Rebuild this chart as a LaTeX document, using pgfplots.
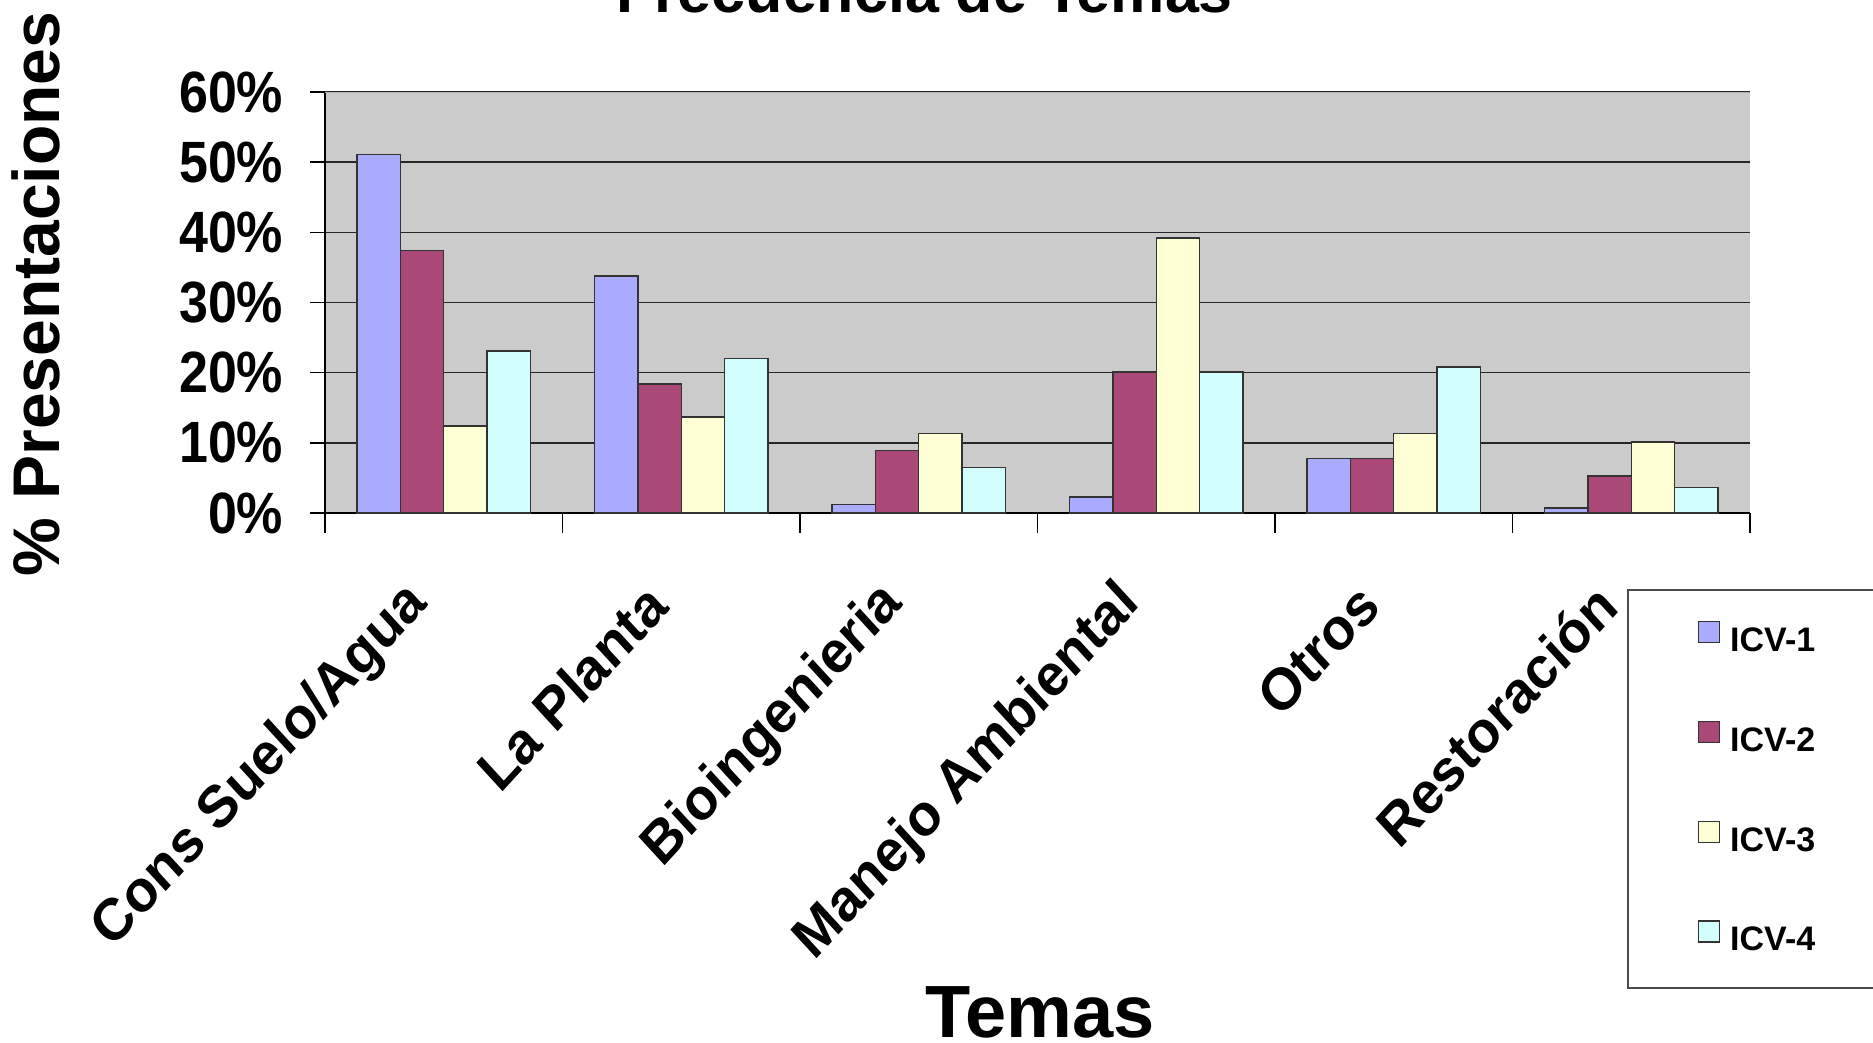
\documentclass[border=0pt]{standalone}
\usepackage{pgfplots}
\pgfplotsset{compat=1.18}
\usepackage{fontspec}
\setmainfont{Liberation Sans}
\definecolor{cA}{HTML}{AAAAFF}
\definecolor{cB}{HTML}{AA4878}
\definecolor{cC}{HTML}{FFFFD5}
\definecolor{cD}{HTML}{D2FEFE}
\definecolor{bgg}{HTML}{CBCBCB}
\pgfplotsset{every axis plot post/.append style={legend image code/.code={\draw[##1, draw=black!80, line width=0.35pt] (0pt,0pt) rectangle (5.25pt,5.25pt);}}}
\begin{document}
\begin{tikzpicture}
\begin{axis}[
  at={(81.25pt,132.25pt)}, anchor=south west,
  scale only axis, width=356.25pt, height=105.25pt,
  xmin=-0.5, xmax=5.5, ymin=0, ymax=60,
  axis x line*=bottom, axis y line*=left,
  axis line style={black, line width=0.4pt},
  axis background/.style={fill=bgg},
  ybar, bar width=0.1823,
  ytick={0,10,20,30,40,50,60},
  yticklabels={0\%,10\%,20\%,30\%,40\%,50\%,60\%},
  ymajorgrids, grid style={black!85, line width=0.4pt},
  xtick={0,1,2,3,4,5},
  xticklabels={Cons Suelo/Agua,La Planta,Bioingenieria,Manejo Ambiental,Otros,Restoración},
  minor xtick={-0.5,0.5,1.5,2.5,3.5,4.5,5.5},
  tick align=outside, major tick length=3.75pt, minor tick length=5pt,
  tick style={black, line width=0.4pt},
  major x tick style={draw=none},
  yticklabel style={font=\bfseries\fontsize{13pt}{15pt}\selectfont, inner sep=0pt, xshift=-6.5pt, yscale=1.12},
  xticklabel style={font=\bfseries\fontsize{13.5pt}{16pt}\selectfont, inner sep=0pt, xshift=-6pt, yshift=-16.5pt, yscale=1.09, rotate=45, anchor=east},
  every axis title shift=0pt,
  title={Frecuencia de Temas},
  title style={at={(axis description cs:0.421,1.188)}, anchor=base, font=\bfseries\fontsize{15.25pt}{18pt}\selectfont},
  ylabel={\% Presentaciones},
  ylabel style={at={(axis description cs:-0.186,0.520)}, anchor=base, font=\bfseries\fontsize{16.5pt}{19pt}\selectfont},
  xlabel={Temas},
  xlabel style={at={(axis description cs:0.5018,-1.2447)}, anchor=base, font=\bfseries\fontsize{18.5pt}{22pt}\selectfont},
  legend cell align=left,
  legend style={at={(axis description cs:0.9137,-0.1805)}, anchor=north west,
    draw=black!70, line width=0.4pt, fill=white,
    font=\bfseries\fontsize{8.5pt}{10pt}\selectfont,
    inner xsep=17.5pt, inner ysep=7.8pt, row sep=15.8pt,
    nodes={inner sep=0pt},
    /tikz/every odd column/.append style={column sep=2.5pt}},
]
\addplot[fill=cA, draw=black!80, line width=0.35pt, bar shift=-0.2735]
  coordinates {(0,51.1) (1,33.8) (2,1.2) (3,2.3) (4,7.8) (5,0.7)};
\addplot[fill=cB, draw=black!80, line width=0.35pt, bar shift=-0.0912]
  coordinates {(0,37.4) (1,18.4) (2,8.9) (3,20.1) (4,7.8) (5,5.3)};
\addplot[fill=cC, draw=black!80, line width=0.35pt, bar shift=0.0912]
  coordinates {(0,12.4) (1,13.7) (2,11.3) (3,39.2) (4,11.3) (5,10.1)};
\addplot[fill=cD, draw=black!80, line width=0.35pt, bar shift=0.2735]
  coordinates {(0,23.1) (1,22.0) (2,6.5) (3,20.1) (4,20.8) (5,3.6)};
\legend{ICV-1,ICV-2,ICV-3,ICV-4}
\draw[black!30, line width=0.4pt] (axis cs:-0.5,60) -- (axis cs:5.5,60);
\end{axis}
\pgfresetboundingbox
\path[use as bounding box] (0,0) rectangle (468.25pt,260.5pt);
\end{tikzpicture}
\end{document}
